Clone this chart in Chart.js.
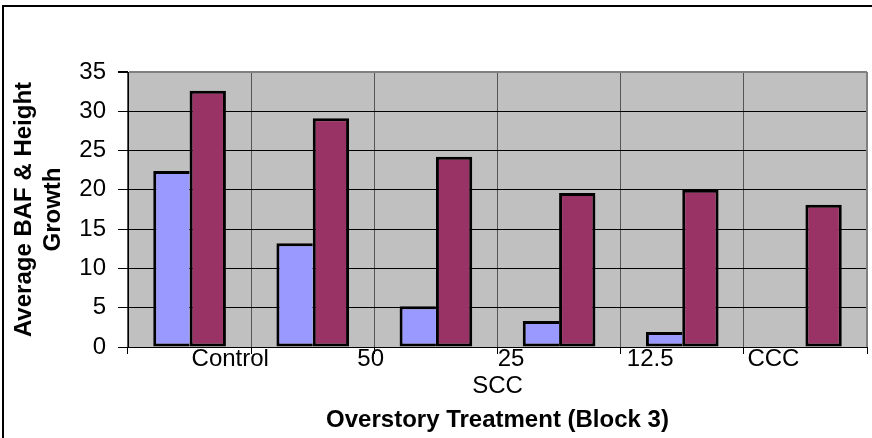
<!DOCTYPE html>
<html>
<head>
<meta charset="utf-8">
<script src="https://cdn.jsdelivr.net/npm/chart.js@4"></script>
<style>
  body { margin: 0; background: #fff; }
  #wrap { width: 872px; height: 438px; }
</style>
</head>
<body>
<div id="wrap"><canvas id="grafico" width="872" height="438"></canvas></div>
<script>
// datos
const grupos = ["1", "2", "3", "4", "5", "6"];
const baf = [22.4, 13.2, 5.2, 3.3, 1.9, 0];
const altura = [32.6, 29.1, 24.2, 19.6, 20.0, 18.1];
const etiquetasX = ["Control", "50", "25", "12.5", "CCC"];
const etiquetasY = [0, 5, 10, 15, 20, 25, 30, 35];

// donde caen las etiquetas del eje x (en unidades de categoria)
const posEtiquetas = [0.33, 1.47, 2.61, 3.74, 4.74];

const fuente = "'Liberation Sans', Arial, sans-serif";

// fondo gris del area de trazado + marco exterior + texto SCC
const extras = {
  id: "extras",
  beforeDraw(chart) {
    const { ctx, chartArea: a } = chart;
    ctx.save();
    ctx.fillStyle = "#C0C0C0";
    ctx.fillRect(a.left, a.top, a.right - a.left, a.bottom - a.top);
    ctx.restore();
  },
  afterDraw(chart) {
    const { ctx, chartArea: a } = chart;
    ctx.save();
    // borde derecho gris del area
    ctx.strokeStyle = "#808080";
    ctx.lineWidth = 2;
    ctx.beginPath();
    ctx.moveTo(a.right, a.top);
    ctx.lineTo(a.right, a.bottom);
    ctx.stroke();
    // marco
    ctx.strokeStyle = "#000";
    ctx.lineWidth = 2;
    ctx.beginPath();
    ctx.moveTo(3, 438);
    ctx.lineTo(3, 6);
    ctx.lineTo(872, 6);
    ctx.stroke();
    // segundo nivel del eje
    ctx.fillStyle = "#000";
    ctx.font = "24px " + fuente;
    ctx.textAlign = "center";
    ctx.textBaseline = "middle";
    ctx.fillText("SCC", (a.left + a.right) / 2, 386);
    ctx.restore();
  },
};

const ctx = document.getElementById("grafico").getContext("2d");
new Chart(ctx, {
  type: "bar",
  data: {
    labels: grupos,
    datasets: [
      {
        label: "BAF",
        data: baf,
        backgroundColor: "#9999FF",
        borderColor: "#000",
        borderWidth: { top: 3, left: 3, bottom: 3, right: 0 },
        borderSkipped: false,
      },
      {
        label: "Height Growth",
        data: altura,
        backgroundColor: "#993366",
        borderColor: "#000",
        borderWidth: 3,
        borderSkipped: false,
      },
    ],
  },
  options: {
    responsive: false,
    animation: false,
    layout: { padding: { top: 72, right: 5, left: 4, bottom: 0 } },
    categoryPercentage: 0.59,
    barPercentage: 1,
    plugins: {
      legend: { display: false },
      tooltip: { enabled: false },
    },
    scales: {
      x: {
        type: "category",
        position: "bottom",
        weight: 0,
        grid: {
          offset: true,
          color: "#555",
          tickColor: "#000",
          tickLength: 7,
        },
        border: { color: "#000", width: 1 },
        ticks: { display: false },
        afterFit: (s) => { s.height = 0; },
      },
      x2: {
        type: "linear",
        position: "bottom",
        weight: 1,
        offset: false,
        bounds: "data",
        min: -0.5,
        max: 5.5,
        grid: { display: false, offset: false },
        border: { display: false },
        afterBuildTicks: (s) => {
          s.ticks = posEtiquetas.map((v) => ({ value: v }));
        },
        ticks: {
          autoSkip: false,
          maxRotation: 0,
          padding: -10,
          color: "#000",
          font: { family: fuente, size: 24 },
          callback: (v, i) => etiquetasX[i],
        },
        title: {
          display: true,
          text: "Overstory Treatment (Block 3)",
          color: "#000",
          font: { family: fuente, size: 24, weight: "bold" },
          padding: { top: 0, bottom: 3 },
        },
        afterFit: (s) => { s.height = 91; },
      },
      y: {
        min: 0,
        max: 35,
        afterBuildTicks: (s) => {
          s.ticks = etiquetasY.map((v) => ({ value: v }));
        },
        grid: {
          color: (c) => (c.tick && c.tick.value === 35 ? "#808080" : "#000"),
          lineWidth: (c) => (c.tick && c.tick.value === 35 ? 2 : 1),
          tickColor: "#000",
          tickLength: 10,
        },
        border: { color: "#000", width: 1 },
        ticks: {
          padding: 12,
          color: "#000",
          font: { family: fuente, size: 24 },
        },
        title: {
          display: true,
          text: ["Average BAF & Height", "Growth"],
          color: "#000",
          font: { family: fuente, size: 24, weight: "bold" },
          padding: { top: 6, bottom: 0 },
        },
        afterFit: (s) => { s.width = 124; },
      },
    },
  },
  plugins: [extras],
});
</script>
</body>
</html>
